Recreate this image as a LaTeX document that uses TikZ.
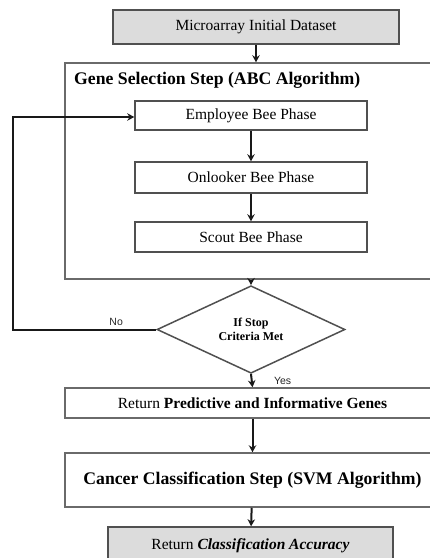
\documentclass[tikz,border=0pt]{standalone}
\usepackage{fontspec}
\setmainfont{Liberation Serif}
\newfontfamily\labelfont{Liberation Sans}
\usepackage{xcolor}
\definecolor{boxgray}{RGB}{220,220,220}
\definecolor{edgegray}{RGB}{80,80,80}
\usepackage{tikz}
\usetikzlibrary{shapes.geometric, arrows.meta, positioning}

\begin{document}
\begin{tikzpicture}[x=1pt, y=-1pt,
  phase/.style={rectangle, draw=edgegray, line width=1.5pt, fill=white, minimum width=232pt, inner sep=0pt, font=\fontsize{15.5}{18}\selectfont},
  io/.style={rectangle, draw=edgegray, line width=1.5pt, fill=boxgray, minimum width=286pt, inner sep=0pt, font=\fontsize{15.5}{18}\selectfont},
  stage/.style={rectangle, draw=edgegray!85, line width=1.5pt, minimum width=375pt, inner sep=0pt, font=\fontsize{15.5}{18}\selectfont},
  decision/.style={diamond, draw=edgegray, line width=1.5pt, fill=white, minimum width=188pt, minimum height=67pt, inner sep=0pt, align=center, font=\fontsize{12}{14}\selectfont\bfseries},
  flow/.style={-{Stealth[length=7pt, width=7.5pt]}, line width=2pt, draw=black!90},
  flowlabel/.style={font=\labelfont\fontsize{10.5}{12}\selectfont, text=black!85}
]
\useasboundingbox (0,0) rectangle (430,558);

% Nodes
\node[io] (data) at (256,27) [minimum height=34pt] {Microarray Initial Dataset};
\node[stage] (gene) at (252.5,171) [minimum height=216pt] {};
\node[anchor=west, inner sep=0pt, font=\fontsize{17.7}{20}\selectfont\bfseries] (genetitle) at (74,80) {Gene Selection Step (ABC Algorithm)};
\node[phase] (employee) at (251,115.5) [minimum height=29pt] {Employee Bee Phase};
\node[phase] (onlooker) at (251,177.5) [minimum height=31pt] {Onlooker Bee Phase};
\node[phase] (scout) at (251,237) [minimum height=30pt] {Scout Bee Phase};
\node[decision] (stop) at (251,329.5) {If Stop\\Criteria Met};
\node[stage] (genes) at (252.5,403) [minimum height=30pt] {Return \textbf{Predictive and Informative Genes}};
\node[stage] (svm) at (252.5,480) [minimum height=54pt, font=\fontsize{17.7}{20}\selectfont\bfseries] {Cancer Classification Step (SVM Algorithm)};
\node[io] (accuracy) at (250.5,546) [minimum width=285pt, minimum height=38pt] {Return \textbf{\textit{Classification Accuracy}}};
\coordinate (back) at (13,329.5);

% Flows
\draw[flow] (data.south) -- (data.south |- gene.north);
\draw[flow] (employee) -- (onlooker);
\draw[flow] (onlooker) -- (scout);
\draw[flow] (stop.north |- gene.south) -- (stop.north);
\draw[flow] (stop.west) -- node[flowlabel, above, pos=0.28] {No} (back) |- ([yshift=-1.5pt]employee.west);
\draw[flow] (stop.south) -- node[flowlabel, right, pos=0.5, xshift=18pt] {Yes} (genes.north);
\draw[flow] (genes) -- (svm);
\draw[flow] (svm) -- (accuracy);

\end{tikzpicture}
\end{document}
